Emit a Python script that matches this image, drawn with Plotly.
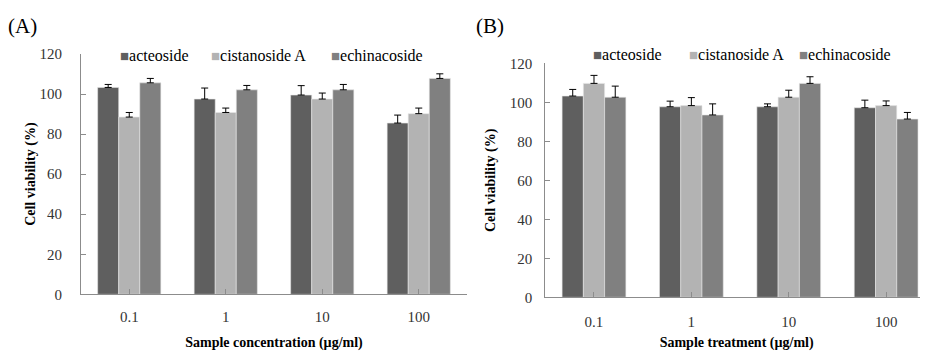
import plotly.graph_objects as go

categories = ["0.1", "1", "10", "100"]
series_names = ["acteoside", "cistanoside A", "echinacoside"]
colors = ["#5f5f5f", "#b3b3b3", "#808080"]

# Panel A: Sample concentration
a_acteoside = [103.3, 97.5, 99.5, 85.5]
a_acteoside_err = [1.5, 5.5, 4.7, 4.0]
a_cistanoside = [88.5, 90.8, 97.5, 90.2]
a_cistanoside_err = [2.3, 2.2, 3.0, 2.8]
a_echinacoside = [105.6, 102.1, 102.1, 107.8]
a_echinacoside_err = [2.2, 2.2, 2.7, 2.3]

# Panel B: Sample treatment
b_acteoside = [103.2, 97.7, 97.7, 97.2]
b_acteoside_err = [3.4, 2.9, 1.5, 3.9]
b_cistanoside = [109.7, 98.3, 102.6, 98.3]
b_cistanoside_err = [4.1, 4.1, 3.6, 2.4]
b_echinacoside = [102.6, 93.5, 109.7, 91.4]
b_echinacoside_err = [5.7, 5.7, 3.4, 3.4]

y_ticks = [0, 20, 40, 60, 80, 100, 120]

FONT = "Liberation Serif"
W, H = 928, 351          # window size
OFF = 8                  # default page body margin
FW, FH = W - OFF, H - OFF  # figure size so it fits the window exactly


def fx(x):
    """window pixel x -> paper fraction"""
    return (x - OFF) / FW


def fy(y):
    """window pixel y (from top) -> paper fraction"""
    return (H - y) / FH


fig = go.Figure()

panels = [
    ("x", "y", [a_acteoside, a_cistanoside, a_echinacoside],
     [a_acteoside_err, a_cistanoside_err, a_echinacoside_err]),
    ("x2", "y2", [b_acteoside, b_cistanoside, b_echinacoside],
     [b_acteoside_err, b_cistanoside_err, b_echinacoside_err]),
]
for xa, ya, vals, errs in panels:
    for name, col, v, e in zip(series_names, colors, vals, errs):
        fig.add_trace(go.Bar(
            x=categories, y=v, name=name, xaxis=xa, yaxis=ya, showlegend=False,
            marker=dict(color=col, line=dict(color="#e6e6e6", width=0.6)),
            error_y=dict(type="data", array=e, arrayminus=[0] * len(e),
                         symmetric=False, color="#000000", thickness=1, width=3.5),
        ))

axis_common = dict(showline=True, linecolor="#8c8c8c", linewidth=1,
                   ticks="inside", ticklen=5, tickcolor="#8c8c8c",
                   showgrid=False, zeroline=False, automargin=False,
                   tickfont=dict(family=FONT, size=15, color="#333333"))
title_font = dict(family=FONT, size=14, color="#000000")

# legend built as text entries (compact swatch + label, as in the reference)
legend_x = {"A": [118, 209, 329], "B": [591, 687, 797]}
legend_y = {"A": 56, "B": 55}
annotations = []
for panel in ["A", "B"]:
    for name, col, px in zip(series_names, colors, legend_x[panel]):
        annotations.append(dict(
            text=f'<span style="color:{col};font-size:15px">■</span>{name}',
            x=fx(px), y=fy(legend_y[panel]), xref="paper", yref="paper",
            xanchor="left", yanchor="middle", showarrow=False,
            font=dict(family=FONT, size=16, color="#000000")))

annotations += [
    dict(text="(A)", x=fx(6), y=fy(26), xref="paper", yref="paper",
         xanchor="left", yanchor="middle", showarrow=False,
         font=dict(family=FONT, size=21)),
    dict(text="(B)", x=fx(474), y=fy(26), xref="paper", yref="paper",
         xanchor="left", yanchor="middle", showarrow=False,
         font=dict(family=FONT, size=21)),
]

fig.update_layout(
    width=FW, height=FH, margin=dict(l=0, r=0, t=0, b=0),
    paper_bgcolor="white", plot_bgcolor="white",
    barmode="group", bargap=0.345, bargroupgap=0,
    font=dict(family=FONT, color="#000000"),
    showlegend=False,
    xaxis=dict(domain=[fx(81), fx(467)], range=[-0.5, 3.5], type="category",
               title=dict(text="<b>Sample concentration (µg/ml)</b>",
                          font=title_font, standoff=14),
               ticklabelstandoff=9, **axis_common),
    yaxis=dict(domain=[fy(294.3), fy(54)], range=[0, 120],
               tickvals=y_ticks, ticklabelstandoff=15,
               title=dict(text="<b>Cell viability (%)</b>",
                          font=title_font, standoff=0),
               anchor="x", **axis_common),
    xaxis2=dict(domain=[fx(545.3), 1.0], range=[-0.5, 3.43], type="category",
                title=dict(text="<b>Sample treatment (µg/ml)</b>",
                           font=title_font, standoff=9),
                ticklabelstandoff=11, anchor="y2", **axis_common),
    yaxis2=dict(domain=[fy(297.3), fy(63.3)], range=[0, 120],
                tickvals=y_ticks, ticklabelstandoff=9,
                title=dict(text="<b>Cell viability (%)</b>",
                           font=title_font, standoff=10),
                anchor="x2", **axis_common),
    annotations=annotations,
)

fig.write_html("out.html")
